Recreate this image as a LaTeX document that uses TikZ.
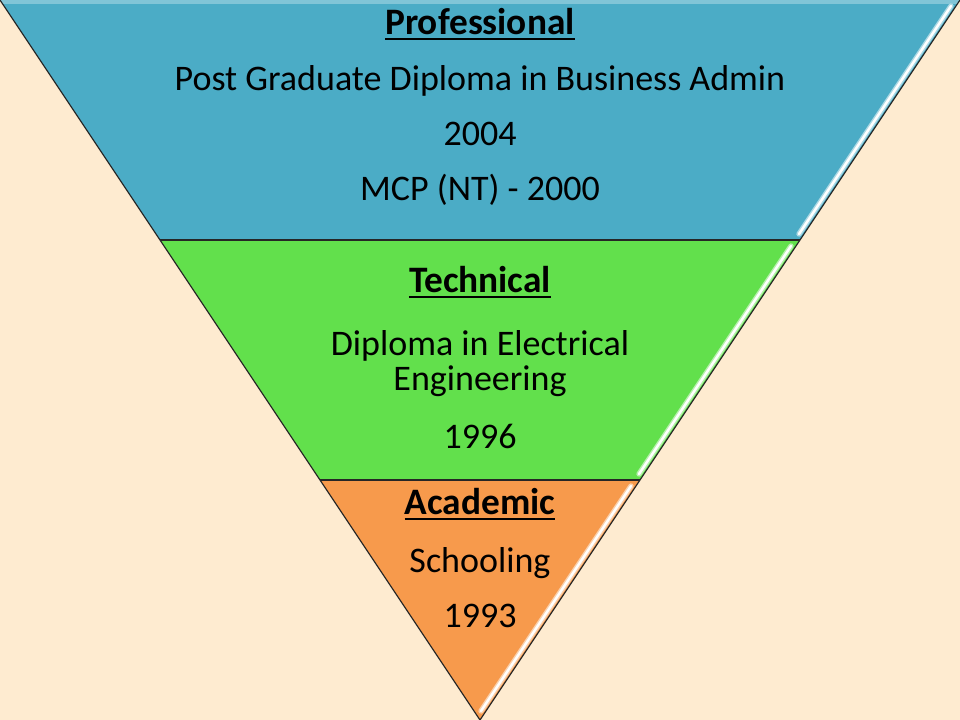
\documentclass[tikz,border=0pt]{standalone}
\usepackage{fontspec}
\setmainfont{Carlito}
\definecolor{bg}{HTML}{FEEBD0}
\definecolor{bandblue}{HTML}{4BACC6}
\definecolor{bandgreen}{HTML}{62E04C}
\definecolor{bandorange}{HTML}{F79A4C}
\begin{document}
\begin{tikzpicture}[x=0.75pt,y=-0.75pt,
  txt/.style={anchor=base,inner sep=0pt,font=\fontsize{27}{33}\selectfont},
  head/.style={anchor=base,inner sep=0pt,font=\fontsize{28}{34}\selectfont\bfseries},
  edge/.style={draw=black!85,line width=0.9pt},
  glowline/.style={line width=4pt,line cap=round},
  shine/.style={white,line width=1.8pt,line cap=round}]
\useasboundingbox (0,0) rectangle (960,720);
\fill[bg] (0,0) rectangle (960,720);
% corners
\coordinate (TL) at (0,0);
\coordinate (TR) at (960,0);
\coordinate (ML1) at (160,240);
\coordinate (MR1) at (800,240);
\coordinate (ML2) at (320,480);
\coordinate (MR2) at (640,480);
\coordinate (B) at (480,720);
% bands
\fill[bandblue] (TL) -- (TR) -- (MR1) -- (ML1) -- cycle;
\fill[bandgreen] (ML1) -- (MR1) -- (MR2) -- (ML2) -- cycle;
\fill[bandorange] (ML2) -- (MR2) -- (B) -- cycle;
% soft top light
\fill[bandblue!70!white] (0,0) -- (960,0) -- (957,4) -- (3,4) -- cycle;
% right-edge highlights
\coordinate (h1a) at (951,6);  \coordinate (h1b) at (799,234);
\coordinate (h2a) at (791,246); \coordinate (h2b) at (639,474);
\coordinate (h3a) at (631,486); \coordinate (h3b) at (481,711);
\draw[glowline,bandblue!45!white] (h1a) -- (h1b);
\draw[shine] (h1a) -- (h1b);
\draw[glowline,bandgreen!45!white] (h2a) -- (h2b);
\draw[shine] (h2a) -- (h2b);
\draw[glowline,bandorange!45!white] (h3a) -- (h3b);
\draw[shine] (h3a) -- (h3b);
% outlines
\draw[edge] (TL) -- (B) -- (TR);
\draw[edge] (ML1) -- (MR1);
\draw[edge] (ML2) -- (MR2);
% texts
\node[head] (p0) at (480,34.5) {Professional};
\draw[line width=1.5pt] ([yshift=-3.4pt]p0.base west) -- ([yshift=-3.4pt]p0.base east);
\node[txt] (p1) at (480,91) {Post Graduate Diploma in Business Admin};
\node[txt] (p2) at (480,146) {2004};
\node[txt] (p3) at (480,201) {MCP (NT) - 2000};
\node[head] (t0) at (480,292) {Technical};
\draw[line width=1.5pt] ([yshift=-3.4pt]t0.base west) -- ([yshift=-3.4pt]t0.base east);
\node[txt] (t1) at (480,355) {Diploma in Electrical};
\node[txt] (t2) at (480,390) {Engineering};
\node[txt] (t3) at (480,448) {1996};
\node[head] (a0) at (480,514) {Academic};
\draw[line width=1.5pt] ([yshift=-3.4pt]a0.base west) -- ([yshift=-3.4pt]a0.base east);
\node[txt] (a1) at (480,572) {Schooling};
\node[txt] (a2) at (480,627) {1993};
\end{tikzpicture}
\end{document}
